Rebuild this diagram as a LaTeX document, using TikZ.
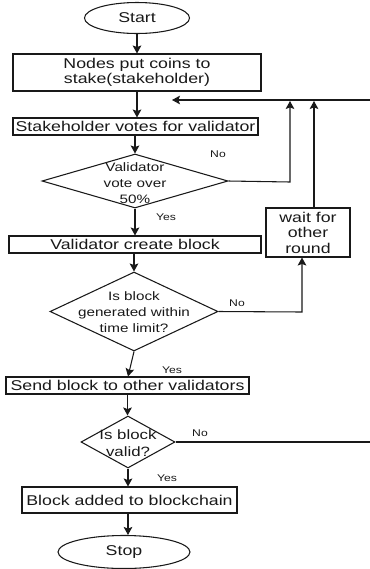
\documentclass[tikz,border=0pt]{standalone}
\usepackage{fontspec}
\setmainfont{Liberation Sans}[FakeStretch=1.25]
\usetikzlibrary{arrows.meta,shapes.geometric}

\tikzset{
  flow/.style={line width=0.8pt, draw=black!90},
  arr/.style={flow, -{Stealth[length=6pt,width=6.5pt,inset=1.2pt]}},
  boxtxt/.style={font=\fontsize{10.65pt}{11.25pt}\selectfont, text=black!90},
  stepbox/.style={rectangle, flow, inner sep=0pt, align=center, boxtxt},
  term/.style={ellipse, flow, inner sep=0pt, boxtxt},
  decision/.style={diamond, flow, inner sep=0pt},
  dtxt/.style={align=center, inner sep=0pt, text=black!90,
    font=\fontsize{9.15pt}{12pt}\selectfont},
  lbl/.style={inner sep=0pt, text=black!90, font=\fontsize{7.3pt}{8pt}\selectfont}
}

\begin{document}
\begin{tikzpicture}[x=0.75pt, y=-0.75pt]
\useasboundingbox (0,0) rectangle (370,569);

% terminals
\node[term, minimum width=78.75pt, minimum height=23.25pt] (start) at (137,18) {Start};
\node[term, minimum width=99pt, minimum height=24.75pt] (stop) at (124,552) {Stop};

% process boxes
\node[stepbox, minimum width=186pt, minimum height=27.75pt] (stake) at (137,72.5)
  {Nodes put coins to\\stake(stakeholder)};
\node[stepbox, minimum width=183.75pt, minimum height=12.75pt] (vote) at (135.5,126.5)
  {Stakeholder votes for validator};
\node[stepbox, minimum width=189pt, minimum height=12.75pt] (create) at (135,244.5)
  {Validator create block};
\node[stepbox, minimum width=182.25pt, minimum height=12.75pt] (send) at (127.5,385.5)
  {Send block to other validators};
\node[stepbox, minimum width=161.25pt, minimum height=19.5pt] (added) at (129.5,500)
  {Block added to blockchain};
\node[stepbox, minimum width=63pt, minimum height=36.75pt,
  font=\fontsize{10.65pt}{11.6pt}\selectfont] (wait) at (308,232.5)
  {wait for\\other\\round};

% decisions
\node[decision, minimum width=139.5pt, minimum height=40.5pt] (d1) at (135,181) {};
\node[dtxt] (d1t) at (135,183) {Validator\\vote over\\50\%};
\node[decision, minimum width=126pt, minimum height=59.25pt] (d2) at (134,311.5) {};
\node[dtxt] (d2t) at (134,312) {Is block\\generated within\\time limit?};
\node[decision, minimum width=70.5pt, minimum height=39pt] (d3) at (128,442) {};
\node[dtxt, font=\fontsize{10.1pt}{12.75pt}\selectfont] (d3t) at (128,443.5) {Is block\\valid?};

% bend points and loose ends of the loop-back lines
\coordinate (inR) at (370,100);
\coordinate (inHead) at (172,100);
\coordinate (noA) at (290,182);
\coordinate (noAtop) at (290,101);
\coordinate (waitTop) at (314,208);
\coordinate (waitUp) at (314,101);
\coordinate (noB) at (302,312);
\coordinate (outR) at (370,442);

% main flow
\draw[arr] (start.south) -- (start.south |- stake.north);
\draw[arr] (stake.south) -- (stake.south |- vote.north);
\draw[arr] (vote.south -| d1.north) -- (d1.north);
\draw[arr] (d1.south) -- (d1.south |- create.north);
\draw[arr] (create.south -| d2.north) -- (d2.north);
\draw[arr] (d2.south) -- ([xshift=0.4pt]send.north);
\draw[arr] (send.south) -- (send.south |- d3.north);
\draw[arr] (d3.south) -- (d3.south |- added.north);
\draw[arr] (added.south -| d3.south) -- (d3.south |- stop.north);

% loop-back branches
\draw[arr] (inR) -- (inHead);
\draw[arr] (d1.east) -- (noA) -- (noAtop);
\draw[arr] (waitTop) -- (waitUp);
\draw[arr] (d2.east) -- (noB) -- (noB |- wait.south);
\draw[flow] (d3.east) -- (outR);

% branch labels
\node[lbl] (no1) at (218,154) {No};
\node[lbl] (yes1) at (166,217) {Yes};
\node[lbl] (no2) at (237,303) {No};
\node[lbl] (yes2) at (172,370) {Yes};
\node[lbl] (no3) at (200,433) {No};
\node[lbl] (yes3) at (167,478) {Yes};
\end{tikzpicture}
\end{document}
